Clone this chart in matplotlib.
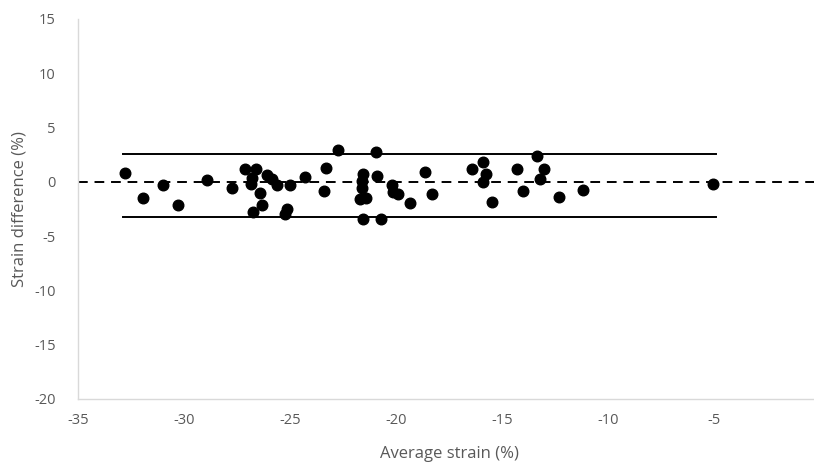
import matplotlib
matplotlib.use('Agg')
import matplotlib.pyplot as plt

# Bland-Altman style agreement plot of strain measurements
avg_strain = [-32.78, -31.92, -30.98, -30.30, -28.90, -27.75, -27.12, -26.62,
              -26.81, -26.85, -26.73, -26.42, -26.33, -26.10, -25.83, -25.63,
              -25.00, -25.13, -25.24, -24.29, -23.32, -23.40, -22.72, -21.54,
              -21.59, -21.59, -21.70, -21.43, -21.54, -20.94, -20.88, -20.71,
              -20.20, -20.13, -19.92, -19.34, -18.62, -18.32, -16.43, -15.91,
              -15.77, -15.88, -15.49, -14.31, -14.00, -13.33, -13.02, -13.21,
              -12.30, -11.19, -5.03]
diff_strain = [0.85, -1.45, -0.29, -2.14, 0.14, -0.53, 1.15, 1.15,
               0.39, -0.17, -2.74, -1.06, -2.14, 0.63, 0.23, -0.32,
               -0.32, -2.53, -2.99, 0.44, 1.31, -0.85, 2.93, 0.69,
               0.07, -0.53, -1.55, -1.45, -3.39, 2.74, 0.53, -3.39,
               -0.32, -0.94, -1.09, -1.98, 0.94, -1.15, 1.15, 1.82,
               0.76, -0.02, -1.86, 1.15, -0.85, 2.38, 1.22, 0.23,
               -1.40, -0.78, -0.17]

upper_loa = 2.60
lower_loa = -3.27
loa_span = [-32.9, -4.9]

xticks = [-35, -30, -25, -20, -15, -10, -5, 0]
yticks = [-20, -15, -10, -5, 0, 5, 10, 15]

grey = '#595959'
plt.rcParams['font.family'] = ['Open Sans', 'DejaVu Sans']

fig = plt.figure(figsize=(8.14, 4.65), dpi=100)
ax = fig.add_axes([78 / 814, 66 / 465, 742 / 814, 380 / 465])

ax.axhline(0, color='black', lw=1.4, ls=(0, (5, 3.5)), zorder=1)
ax.plot(loa_span, [upper_loa, upper_loa], color='black', lw=1.4, zorder=2)
ax.plot(loa_span, [lower_loa, lower_loa], color='black', lw=1.4, zorder=2)
ax.scatter(avg_strain, diff_strain, s=58, color='black', zorder=3)

ax.set_xlim(-35, 0)
ax.set_ylim(-20, 15)
ax.set_xticks(xticks)
ax.set_yticks(yticks)
ax.set_xticklabels([str(t) for t in xticks])
ax.set_yticklabels([str(t) for t in yticks])
ax.tick_params(length=0, labelsize=10.5, labelcolor=grey)
ax.tick_params(axis='y', pad=16)
ax.tick_params(axis='x', pad=10)

for side in ['top', 'right']:
    ax.spines[side].set_visible(False)
for side in ['left', 'bottom']:
    ax.spines[side].set_color('#d9d9d9')
    ax.spines[side].set_linewidth(1.0)

ax.set_xlabel('Average strain (%)', fontsize=12, color=grey, labelpad=13)
ax.set_ylabel('Strain difference (%)', fontsize=12, color=grey, labelpad=5)

fig.savefig('out.png', dpi=100)
